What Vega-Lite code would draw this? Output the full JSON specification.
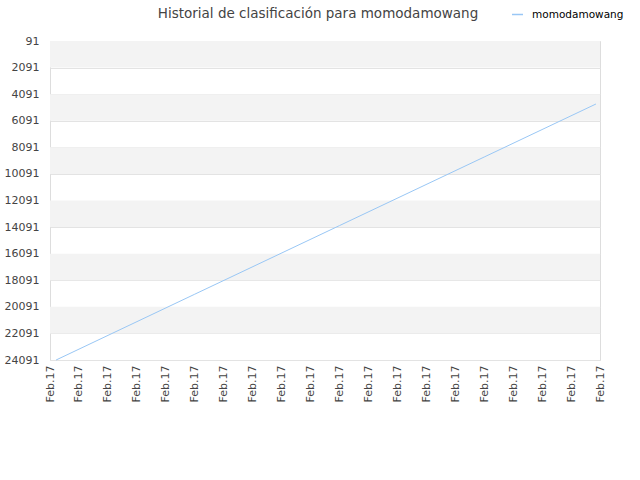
{
  "$schema": "https://vega.github.io/schema/vega-lite/v6.json",
  "width": 550,
  "height": 319,
  "autosize": "none",
  "padding": {"left": 50, "top": 41, "right": 40, "bottom": 120},
  "background": "white",
  "config": {
    "view": {"stroke": "#dddddd"},
    "font": "DejaVu Sans"
  },
  "title": {
    "text": "Historial de clasificación para momodamowang",
    "fontSize": 13.5,
    "fontWeight": "normal",
    "color": "#444444",
    "anchor": "middle",
    "frame": "group",
    "dx": -7,
    "offset": -12
  },
  "datasets": {
    "bands": [
      {"from": 91, "to": 2091},
      {"from": 4091, "to": 6091},
      {"from": 8091, "to": 10091},
      {"from": 12091, "to": 14091},
      {"from": 16091, "to": 18091},
      {"from": 20091, "to": 22091}
    ],
    "ranks": [
      {"t": 0.21, "rank": 24091, "player": "momodamowang"},
      {"t": 5, "rank": 19141, "player": "momodamowang"},
      {"t": 10, "rank": 13980, "player": "momodamowang"},
      {"t": 15, "rank": 8819, "player": "momodamowang"},
      {"t": 18.86, "rank": 4831, "player": "momodamowang"}
    ]
  },
  "layer": [
    {
      "data": {"name": "bands"},
      "mark": {"type": "rect", "color": "#f3f3f3"},
      "encoding": {
        "y": {
          "field": "from",
          "type": "quantitative",
          "scale": {"domain": [91, 24091], "reverse": true, "nice": false, "zero": false},
          "axis": {
            "title": null,
            "values": [91, 2091, 4091, 6091, 8091, 10091, 12091, 14091, 16091, 18091, 20091, 22091, 24091],
            "format": "d",
            "labelFontSize": 11,
            "labelColor": "#444444",
            "labelPadding": 11,
            "grid": true,
            "gridColor": "#e3e3e3",
            "ticks": false,
            "domain": false,
            "labelFlush": false,
            "labelOverlap": false
          }
        },
        "y2": {"field": "to"}
      }
    },
    {
      "data": {"name": "ranks"},
      "mark": {"type": "line", "strokeWidth": 1, "color": "#99c7f5"},
      "encoding": {
        "x": {
          "field": "t",
          "type": "quantitative",
          "scale": {"domain": [0, 19], "nice": false, "zero": false},
          "axis": {
            "title": null,
            "values": [0, 1, 2, 3, 4, 5, 6, 7, 8, 9, 10, 11, 12, 13, 14, 15, 16, 17, 18, 19],
            "labelExpr": "'Feb.17'",
            "labelAngle": -90,
            "labelAlign": "right",
            "labelBaseline": "middle",
            "labelFontSize": 11,
            "labelColor": "#444444",
            "labelPadding": 5,
            "labelFlush": false,
            "labelOverlap": false,
            "grid": false,
            "ticks": false,
            "domain": false
          }
        },
        "y": {
          "field": "rank",
          "type": "quantitative",
          "axis": {
            "title": null,
            "values": [91, 2091, 4091, 6091, 8091, 10091, 12091, 14091, 16091, 18091, 20091, 22091, 24091],
            "format": "d",
            "labelFontSize": 11,
            "labelColor": "#444444",
            "labelPadding": 11,
            "grid": true,
            "gridColor": "#e3e3e3",
            "ticks": false,
            "domain": false,
            "labelFlush": false,
            "labelOverlap": false
          }
        },
        "color": {
          "field": "player",
          "type": "nominal",
          "scale": {"range": ["#99c7f5"]},
          "legend": {
            "title": null,
            "orient": "none",
            "legendX": 461,
            "legendY": -33,
            "symbolType": "stroke",
            "symbolSize": 120,
            "symbolStrokeWidth": 1.5,
            "labelOffset": 8,
            "labelFontSize": 10.5,
            "labelColor": "#000000"
          }
        }
      }
    }
  ]
}
